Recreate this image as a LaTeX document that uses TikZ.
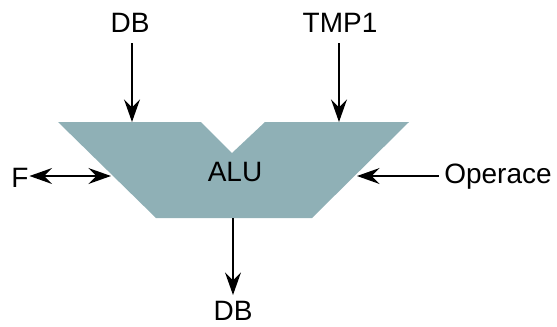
\documentclass[tikz,border=0pt]{standalone}
\usepackage{fontspec}
\setmainfont{Liberation Sans}
\usetikzlibrary{arrows.meta}
\definecolor{alufill}{RGB}{143,176,182}
\tikzset{
  lbl/.style={inner sep=0pt, font=\fontsize{21}{25}\selectfont},
  conn/.style={line width=1.1pt, -{Stealth[length=17pt,width=12pt,inset=6pt]}},
  conn2/.style={line width=1.1pt, {Stealth[length=17pt,width=12pt,inset=6pt]}-{Stealth[length=17pt,width=12pt,inset=6pt]}}
}
\begin{document}
\begin{tikzpicture}[x=0.75pt,y=-0.75pt]
\useasboundingbox (0,0) rectangle (557,326);
\fill[alufill] (58,122) -- (201,122) -- (232,153) -- (265,122) -- (409,122) -- (312,218) -- (156,218) -- cycle;
\node[lbl] (alu) at (235,172) {ALU};
\node[lbl] (dbt) at (130,23) {DB};
\node[lbl] (tmp) at (340,23) {TMP1};
\node[lbl] (f) at (20,178) {F};
\node[lbl] (op) at (498,177) {Operace};
\node[lbl] (dbb) at (233,311) {DB};
\coordinate (a1) at (132,122);
\coordinate (a2) at (339,122);
\coordinate (a3) at (111,176);
\coordinate (a4) at (357,176);
\coordinate (a5) at (233,218);
\draw[conn] (132,43) -- (a1);
\draw[conn] (339,43) -- (a2);
\draw[conn2] (f.east) ++(0.5pt,0) coordinate (fe) (fe |- a3) -- (a3);
\draw[conn] (op.west) ++(-4pt,0) coordinate (oe) (oe |- a4) -- (a4);
\draw[conn] (a5) -- (233,295);
\end{tikzpicture}
\end{document}
